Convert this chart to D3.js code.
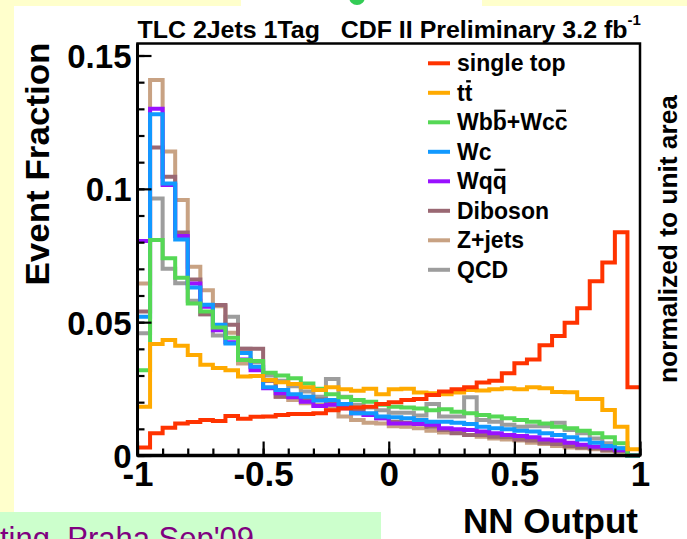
<!DOCTYPE html>
<html>
<head>
<meta charset="utf-8">
<script src="https://cdn.jsdelivr.net/npm/d3@7"></script>
<style>
  html, body { margin: 0; padding: 0; background: #ffffcc; }
  svg { display: block; font-family: "Liberation Sans", Arial, Helvetica, sans-serif; }
</style>
</head>
<body>
<svg id="chart" width="687" height="539"></svg>
<script>
// ---- NN output templates, 40 bins on [-1, 1], each normalized to unit area ----
const nnRange = [-1, 1];
const nBins = 40;

const singleTop = [0.0030, 0.0083, 0.0104, 0.0120, 0.0126, 0.0133, 0.0129, 0.0148, 0.0138, 0.0145,
                   0.0146, 0.0152, 0.0156, 0.0156, 0.0158, 0.0170, 0.0176, 0.0180, 0.0183, 0.0193,
                   0.0200, 0.0208, 0.0212, 0.0227, 0.0240, 0.0248, 0.0256, 0.0274, 0.0280, 0.0308,
                   0.0346, 0.0360, 0.0413, 0.0448, 0.0498, 0.0552, 0.0653, 0.0724, 0.0837, 0.0256];
const ttbar     = [0.0183, 0.0418, 0.0433, 0.0412, 0.0377, 0.0340, 0.0328, 0.0320, 0.0296, 0.0298,
                   0.0283, 0.0275, 0.0268, 0.0256, 0.0246, 0.0256, 0.0248, 0.0243, 0.0250, 0.0230,
                   0.0248, 0.0250, 0.0236, 0.0233, 0.0230, 0.0236, 0.0246, 0.0244, 0.0248, 0.0252,
                   0.0248, 0.0256, 0.0252, 0.0238, 0.0237, 0.0212, 0.0212, 0.0171, 0.0108, 0.0023];
const wbbWcc    = [0.0320, 0.0808, 0.0740, 0.0667, 0.0570, 0.0540, 0.0480, 0.0442, 0.0358, 0.0354,
                   0.0310, 0.0300, 0.0290, 0.0270, 0.0250, 0.0230, 0.0218, 0.0208, 0.0202, 0.0190,
                   0.0183, 0.0180, 0.0176, 0.0170, 0.0173, 0.0164, 0.0158, 0.0152, 0.0146, 0.0140,
                   0.0133, 0.0127, 0.0120, 0.0108, 0.0102, 0.0093, 0.0083, 0.0068, 0.0046, 0.0000];
const wc        = [0.0520, 0.1280, 0.1020, 0.0810, 0.0630, 0.0565, 0.0490, 0.0420, 0.0384, 0.0333,
                   0.0256, 0.0246, 0.0230, 0.0220, 0.0206, 0.0208, 0.0193, 0.0158, 0.0158, 0.0146,
                   0.0143, 0.0140, 0.0133, 0.0127, 0.0127, 0.0123, 0.0118, 0.0108, 0.0102, 0.0098,
                   0.0093, 0.0090, 0.0083, 0.0077, 0.0068, 0.0060, 0.0048, 0.0036, 0.0027, 0.0000];
const wqq       = [0.0804, 0.1300, 0.1014, 0.0823, 0.0645, 0.0558, 0.0470, 0.0425, 0.0360, 0.0320,
                   0.0252, 0.0233, 0.0218, 0.0202, 0.0186, 0.0190, 0.0177, 0.0158, 0.0152, 0.0140,
                   0.0120, 0.0120, 0.0118, 0.0115, 0.0102, 0.0098, 0.0096, 0.0090, 0.0083, 0.0077,
                   0.0073, 0.0068, 0.0060, 0.0056, 0.0048, 0.0040, 0.0033, 0.0027, 0.0020, 0.0000];
const diboson   = [0.0540, 0.1155, 0.1045, 0.0836, 0.0660, 0.0530, 0.0564, 0.0490, 0.0400, 0.0400,
                   0.0280, 0.0220, 0.0220, 0.0210, 0.0210, 0.0202, 0.0186, 0.0170, 0.0152, 0.0140,
                   0.0127, 0.0123, 0.0120, 0.0108, 0.0096, 0.0083, 0.0077, 0.0077, 0.0070, 0.0068,
                   0.0060, 0.0056, 0.0048, 0.0043, 0.0036, 0.0030, 0.0027, 0.0020, 0.0018, 0.0000];
const zJets     = [0.0645, 0.1408, 0.1140, 0.0958, 0.0708, 0.0620, 0.0560, 0.0460, 0.0345, 0.0330,
                   0.0280, 0.0220, 0.0208, 0.0196, 0.0190, 0.0177, 0.0146, 0.0133, 0.0123, 0.0120,
                   0.0110, 0.0108, 0.0102, 0.0093, 0.0086, 0.0086, 0.0077, 0.0070, 0.0064, 0.0060,
                   0.0056, 0.0048, 0.0043, 0.0036, 0.0030, 0.0027, 0.0023, 0.0018, 0.0014, 0.0000];
const qcd       = [0.0458, 0.0964, 0.0700, 0.0646, 0.0580, 0.0530, 0.0450, 0.0520, 0.0400, 0.0350,
                   0.0300, 0.0280, 0.0260, 0.0240, 0.0220, 0.0287, 0.0220, 0.0190, 0.0180, 0.0170,
                   0.0160, 0.0160, 0.0150, 0.0193, 0.0146, 0.0146, 0.0218, 0.0133, 0.0127, 0.0115,
                   0.0108, 0.0110, 0.0110, 0.0123, 0.0096, 0.0083, 0.0064, 0.0046, 0.0027, 0.0000];

// legend order; characters listed in barredChars get an overbar (antiquark)
const seriesLabels = ["single top", "tt", "Wbb+Wcc", "Wc", "Wqq", "Diboson", "Z+jets", "QCD"];
const barredChars  = [[], [1], [2, 6], [], [2], [], [], []];
const seriesValues = [singleTop, ttbar, wbbWcc, wc, wqq, diboson, zJets, qcd];
const seriesColors = ["#ff3300", "#ffaa00", "#55d855", "#1199ff", "#9911ff", "#9a6873", "#c8a283", "#9d9d9d"];

const xMajorTicks = [-1, -0.5, 0, 0.5, 1];
const xTickLabels = ["-1", "-0.5", "0", "0.5", "1"];
const yMajorTicks = [0, 0.05, 0.1, 0.15];
const yTickLabels = ["0", "0.05", "0.1", "0.15"];

const titleText = "TLC 2Jets 1Tag   CDF II Preliminary 3.2 fb";
const titleSup = "-1";
const xTitle = "NN Output";
const yTitle = "Event Fraction";
const sideNote = "normalized to unit area";
const footerText = "ting, Praha Sep'09";

// ---- page furniture ----
const svg = d3.select("#chart");
svg.append("rect").attr("width", 687).attr("height", 539).attr("fill", "#ffffcc");
svg.append("rect").attr("x", 14).attr("y", 6).attr("width", 673).attr("height", 533).attr("fill", "#ffffff");
svg.append("rect").attr("x", 241).attr("y", 0).attr("width", 241).attr("height", 6).attr("fill", "#ffffff");
svg.append("circle").attr("cx", 357).attr("cy", -3).attr("r", 8).attr("fill", "#33cc55");
svg.append("rect").attr("x", 0).attr("y", 512).attr("width", 381).attr("height", 27).attr("fill", "#ccffcc");
svg.append("text").attr("x", 0).attr("y", 549).attr("font-size", 31).attr("fill", "#800080")
  .text(footerText);

// ---- plot frame and scales ----
const frame = { left: 137.5, right: 640, top: 43.5, bottom: 455.5 };
const x = d3.scaleLinear().domain(nnRange).range([frame.left, frame.right]);
const y = d3.scaleLinear().domain([0, 0.1545]).range([frame.bottom, frame.top]);
const binEdges = d3.range(nBins + 1).map(i => nnRange[0] + i * (nnRange[1] - nnRange[0]) / nBins);

// ---- histograms (drawn last legend entry first so single top is on top) ----
const stepLine = d3.line().x(d => x(d[0])).y(d => y(d[1])).curve(d3.curveLinear);
const histGroup = svg.append("g");
d3.range(seriesValues.length).reverse().forEach(k => {
  const pts = seriesValues[k].flatMap((v, i) => [[binEdges[i], v], [binEdges[i + 1], v]]);
  histGroup.append("path")
    .attr("d", stepLine(pts))
    .attr("fill", "none")
    .attr("stroke", seriesColors[k])
    .attr("stroke-width", 4)
    .attr("stroke-linejoin", "miter");
});

// ---- axes (ROOT style: ticks point into the frame) ----
const yMinor = d3.range(0, 0.1545, 0.01);
const xMinor = d3.range(-1, 1.0001, 0.1);

svg.append("g").attr("transform", `translate(${frame.left},0)`)
  .call(d3.axisLeft(y).tickValues(yMinor).tickSizeInner(-7).tickSizeOuter(0).tickFormat(""))
  .call(g => g.select(".domain").remove())
  .call(g => g.selectAll("line").attr("stroke", "#000").attr("stroke-width", 2.2));

svg.append("g").attr("transform", `translate(${frame.left},0)`)
  .call(d3.axisLeft(y).tickValues(yMajorTicks).tickSizeInner(-14).tickSizeOuter(0).tickPadding(6)
        .tickFormat((d, i) => yTickLabels[i]))
  .call(g => g.select(".domain").remove())
  .call(g => g.selectAll("line").attr("stroke", "#000").attr("stroke-width", 2.2))
  .call(g => g.selectAll("text").attr("fill", "#000").attr("font-size", 33).attr("font-weight", "bold")
        .attr("font-family", "Liberation Sans, Arial, sans-serif").attr("dy", "0.36em"));

svg.append("g").attr("transform", `translate(0,${frame.bottom})`)
  .call(d3.axisBottom(x).tickValues(xMinor).tickSizeInner(-7).tickSizeOuter(0).tickFormat(""))
  .call(g => g.select(".domain").remove())
  .call(g => g.selectAll("line").attr("stroke", "#000").attr("stroke-width", 2.2));

svg.append("g").attr("transform", `translate(0,${frame.bottom})`)
  .call(d3.axisBottom(x).tickValues(xMajorTicks).tickSizeInner(-14).tickSizeOuter(0).tickPadding(6)
        .tickFormat((d, i) => xTickLabels[i]))
  .call(g => g.select(".domain").remove())
  .call(g => g.selectAll("line").attr("stroke", "#000").attr("stroke-width", 2.2))
  .call(g => g.selectAll("text").attr("fill", "#000").attr("font-size", 35).attr("font-weight", "bold")
        .attr("font-family", "Liberation Sans, Arial, sans-serif"));

svg.append("rect")
  .attr("x", frame.left).attr("y", frame.top)
  .attr("width", frame.right - frame.left).attr("height", frame.bottom - frame.top)
  .attr("fill", "none").attr("stroke", "#000").attr("stroke-width", 2.5);
svg.append("line")
  .attr("x1", frame.left).attr("x2", frame.right).attr("y1", frame.bottom).attr("y2", frame.bottom)
  .attr("stroke", "#000").attr("stroke-width", 3.5);
svg.append("line")
  .attr("x1", frame.left).attr("x2", frame.left).attr("y1", frame.top).attr("y2", frame.bottom)
  .attr("stroke", "#000").attr("stroke-width", 3);

// ---- titles ----
const title = svg.append("text").attr("x", frame.left).attr("y", 38)
  .attr("font-size", 24).attr("font-weight", "bold").attr("xml:space", "preserve")
  .style("white-space", "pre");
title.append("tspan").text(titleText).attr("textLength", 490).attr("lengthAdjust", "spacingAndGlyphs");
title.append("tspan").attr("dy", -13).attr("font-size", 15).text(titleSup);

svg.append("text").attr("x", frame.right - 2).attr("y", 533)
  .attr("text-anchor", "end").attr("font-size", 35).attr("font-weight", "bold")
  .text(xTitle);

svg.append("text").attr("transform", `translate(49,${frame.top - 1}) rotate(-90)`)
  .attr("text-anchor", "end").attr("font-size", 33).attr("font-weight", "bold")
  .attr("textLength", 243).attr("lengthAdjust", "spacingAndGlyphs")
  .text(yTitle);

svg.append("text").attr("transform", "translate(677,383) rotate(-90)")
  .attr("font-size", 25).attr("font-weight", "bold")
  .attr("textLength", 288).attr("lengthAdjust", "spacingAndGlyphs")
  .text(sideNote);

// ---- legend ----
const legend = svg.append("g");
seriesLabels.forEach((label, k) => {
  const ly = 63.3 + k * 29.5;
  legend.append("line").attr("x1", 428).attr("x2", 450).attr("y1", ly).attr("y2", ly)
    .attr("stroke", seriesColors[k]).attr("stroke-width", 4);
  const t = legend.append("text").attr("x", 457).attr("y", ly + 8)
    .attr("font-size", 23).attr("font-weight", "bold").text(label);
  barredChars[k].forEach(ci => {
    const box = t.node().getExtentOfChar(ci);
    legend.append("line")
      .attr("x1", box.x + 1.5).attr("x2", box.x + box.width - 1.5)
      .attr("y1", ly + 8 - 19.5).attr("y2", ly + 8 - 19.5)
      .attr("stroke", "#000").attr("stroke-width", 2.3);
  });
});
</script>
</body>
</html>
